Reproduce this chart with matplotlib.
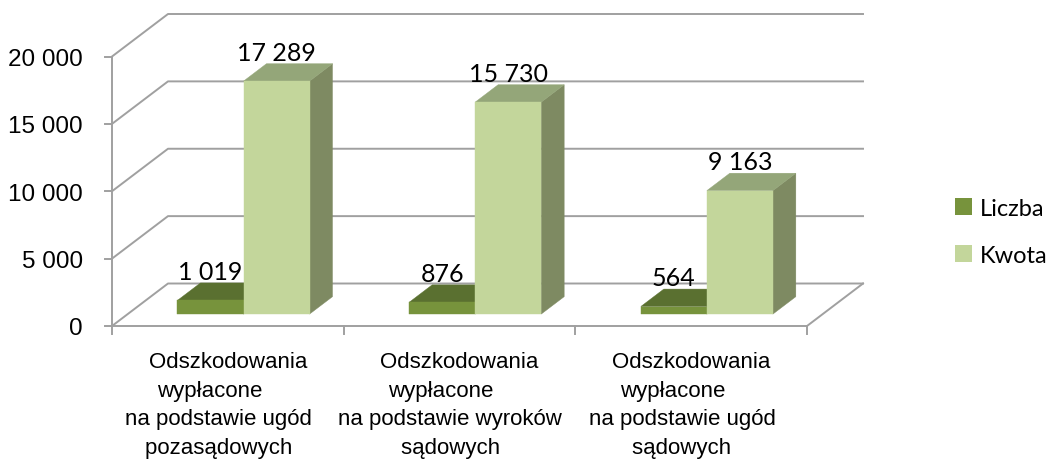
import matplotlib
matplotlib.use("Agg")
import matplotlib.pyplot as plt
from matplotlib import font_manager
from matplotlib.patches import Polygon, Patch

categories = [
    "Odszkodowania\nwypłacone      \nna podstawie ugód   \npozasądowych   ",
    "Odszkodowania\nwypłacone      \nna podstawie wyroków   \nsądowych   ",
    "Odszkodowania\nwypłacone      \nna podstawie ugód   \nsądowych   ",
]
series_names = ["Liczba", "Kwota"]
liczba = [1019, 876, 564]
kwota = [17289, 15730, 9163]
y_ticks = [0, 5000, 10000, 15000, 20000]


def has_font(name):
    try:
        font_manager.findfont(name, fallback_to_default=False)
        return True
    except ValueError:
        return False


if has_font("Liberation Sans Narrow"):
    axis_font, tick_size, cat_size = "Liberation Sans Narrow", 19.5, 18.5
else:
    axis_font, tick_size, cat_size = "Liberation Sans", 17.5, 16
label_font = "Lato" if has_font("Lato") else "DejaVu Sans"

# pixel layout of the front plane
W, H = 1056, 464
X0_PX, CAT_PX = 112, 231.67          # left edge of floor, px per category
Y0_PX, VAL_PX = 327, 269.5 / 20000   # floor line, px per unit
DX = 56 / CAT_PX                     # depth offset in category units
DY = 42.5 / VAL_PX                   # depth offset in value units
BW = 0.285                           # bar width
D0, D1 = 0.28, 0.69                  # bar front/back depth

front_cols = ["#77933C", "#C3D69B"]
top_cols = ["#5A7030", "#94A679"]
side_cols = ["#4F6228", "#7E8A62"]
grid_col = "#A0A0A0"

fig = plt.figure(figsize=(W / 100, H / 100), dpi=100)
ax = fig.add_axes([0, 0, 1, 1])
ax.set_xlim(-X0_PX / CAT_PX, (W - X0_PX) / CAT_PX)
ax.set_ylim(-(H - Y0_PX) / VAL_PX, Y0_PX / VAL_PX)
ax.axis("off")

n = len(categories)
px_x = 1 / CAT_PX
px_y = 1 / VAL_PX
lw = 1.4

# walls
for v in y_ticks:
    ax.plot([0, DX, n + DX], [v, v + DY, v + DY], color=grid_col, lw=lw, zorder=1)
    ax.plot([0, -7 * px_x], [v, v], color=grid_col, lw=lw, zorder=1)
    ax.text(-29 * px_x, v, f"{v:,}".replace(",", " "), ha="right", va="center_baseline",
            fontsize=tick_size, family=axis_font)
ax.plot([0, 0], [0, y_ticks[-1]], color=grid_col, lw=lw, zorder=1)
ax.plot([0, n, n + DX], [0, 0, DY], color=grid_col, lw=lw, zorder=1)
for k in range(n + 1):
    ax.plot([k, k], [0, -8 * px_y], color=grid_col, lw=lw, zorder=1)

# bars
for i in range(n):
    c = i + 0.5
    for j, vals in enumerate([liczba, kwota]):
        v = vals[i]
        x0 = c - BW + j * BW
        x1 = x0 + BW
        a, b = D0, D1
        front = [(x0 + a * DX, a * DY), (x1 + a * DX, a * DY),
                 (x1 + a * DX, v + a * DY), (x0 + a * DX, v + a * DY)]
        top = [(x0 + a * DX, v + a * DY), (x1 + a * DX, v + a * DY),
               (x1 + b * DX, v + b * DY), (x0 + b * DX, v + b * DY)]
        side = [(x1 + a * DX, a * DY), (x1 + b * DX, b * DY),
                (x1 + b * DX, v + b * DY), (x1 + a * DX, v + a * DY)]
        for pts, col in [(side, side_cols[j]), (top, top_cols[j]), (front, front_cols[j])]:
            ax.add_patch(Polygon(pts, closed=True, facecolor=col, edgecolor=col,
                                 lw=0.3, zorder=2 + j))
        ax.text((x0 + x1) / 2 + a * DX, v + b * DY + 4 * px_y,
                f"{v:,}".replace(",", " "), ha="center", va="baseline",
                fontsize=18, family=label_font, zorder=5)

# category labels
for i, lab in enumerate(categories):
    ax.text(i + 0.5, -25 * px_y, lab, ha="center", va="top",
            multialignment="center", fontsize=cat_size, family=axis_font,
            linespacing=1.47)

handles = [Patch(facecolor=front_cols[j], edgecolor="none", label=series_names[j])
           for j in range(2)]
ax.legend(handles=handles, loc="center left",
          bbox_to_anchor=(955 / W, 1 - 233 / H), bbox_transform=fig.transFigure,
          frameon=False, prop={"family": label_font, "size": 17},
          handlelength=0.72, handleheight=0.72, handletextpad=0.34,
          labelspacing=1.1, borderpad=0, borderaxespad=0)

fig.savefig("out.png", dpi=100)
